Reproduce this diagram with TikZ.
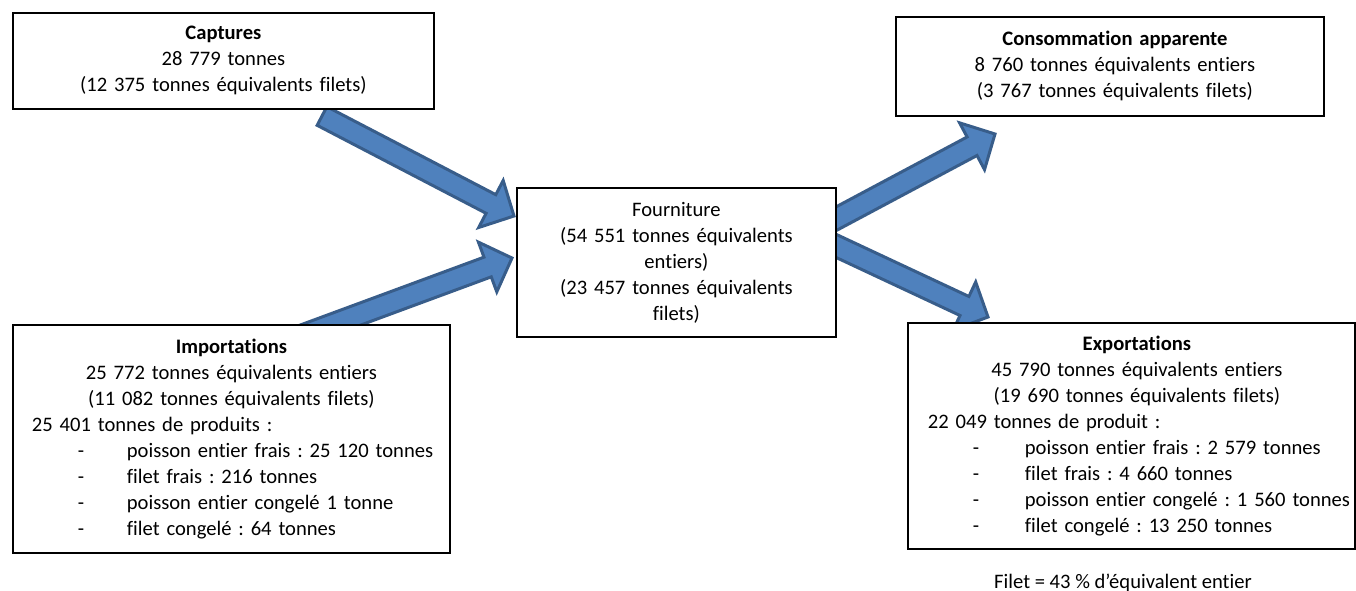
\documentclass[tikz,border=0pt]{standalone}
\usepackage{fontspec}
\setmainfont{Carlito}[RawFeature={-liga;-clig;-calt;-dlig}]
\usetikzlibrary{calc}
\frenchspacing
\definecolor{arrowfill}{HTML}{4F81BD}
\definecolor{arrowline}{HTML}{385D8A}
\newcommand{\fs}{\fontsize{20.6}{26}\selectfont\frenchspacing}
\newcommand{\lftline}[3]{\makebox[#1][l]{\hspace*{#2}#3}}
\newcommand{\dashitem}[3]{\makebox[#1][l]{\hspace*{65pt}\makebox[#2][l]{-}#3}}
\newcommand{\blockarrow}[2]{%
  \draw[barrow] ($(#1)!10.5pt!90:(#2)$)
    -- ($(#2)!26pt!(#1)!10.5pt!-90:(#1)$)
    -- ($(#2)!26pt!(#1)!26.5pt!-90:(#1)$)
    -- (#2)
    -- ($(#2)!26pt!(#1)!26.5pt!90:(#1)$)
    -- ($(#2)!26pt!(#1)!10.5pt!90:(#1)$)
    -- ($(#1)!10.5pt!-90:(#2)$) -- cycle;}
\tikzset{
  box/.style={draw=black, line width=1.8pt, fill=white, inner sep=0pt,
    align=center, font=\fs, anchor=north west},
  barrow/.style={fill=arrowfill, draw=arrowline, line width=3pt, line join=miter},
  note/.style={font=\fs, inner sep=0pt}
}
\begin{document}
\begin{tikzpicture}[x=1pt,y=-1pt]
\useasboundingbox (0,0) rectangle (1356,591);
% arrow end points
\coordinate (a1t) at (322,116);
\coordinate (a1h) at (514,216);
\coordinate (a2t) at (290,340);
\coordinate (a2h) at (512,258);
\coordinate (a3t) at (800,238);
\coordinate (a3h) at (995,134);
\coordinate (a4t) at (800,229);
\coordinate (a4h) at (988,317);
\blockarrow{a1t}{a1h}
\blockarrow{a2t}{a2h}
\blockarrow{a3t}{a3h}
\blockarrow{a4t}{a4h}
% boxes
\node[box, minimum width=421pt, minimum height=96pt, text width=421pt] (cap) at (12,12)
  {\textbf{Captures}\\28 779 tonnes\\(12 375 tonnes équivalents filets)};
\node[box, minimum width=428pt, minimum height=99pt, text width=428pt] (cons) at (895,16)
  {\hspace*{10pt}\textbf{Consommation apparente}\\\hspace*{10pt}8 760 tonnes équivalents entiers\\\hspace*{10pt}(3 767 tonnes équivalents filets)};
\node[box, minimum width=319pt, minimum height=149pt, text width=319pt] (four) at (516,187)
  {Fourniture\\(54 551 tonnes équivalents\\entiers)\\(23 457 tonnes équivalents\\filets)};
\node[box, minimum width=437pt, minimum height=228pt, text width=437pt] (imp) at (12,324)
  {\textbf{Importations}\\25 772 tonnes équivalents entiers\\(11 082 tonnes équivalents filets)\\
   \lftline{437pt}{19pt}{25 401 tonnes de produits :}\\
   \dashitem{437pt}{49pt}{poisson entier frais : 25 120 tonnes}\\
   \dashitem{437pt}{49pt}{filet frais : 216 tonnes}\\
   \dashitem{437pt}{49pt}{poisson entier congelé 1 tonne}\\
   \dashitem{437pt}{49pt}{filet congelé : 64 tonnes}};
\node[box, minimum width=447pt, minimum height=226pt, text width=447pt] (exp) at (907,322)
  {\hspace*{11pt}\textbf{Exportations}\\\hspace*{11pt}45 790 tonnes équivalents entiers\\\hspace*{11pt}(19 690 tonnes équivalents filets)\\
   \lftline{447pt}{20pt}{22 049 tonnes de produit :}\\
   \dashitem{447pt}{52pt}{poisson entier frais : 2 579 tonnes}\\
   \dashitem{447pt}{52pt}{filet frais : 4 660 tonnes}\\
   \dashitem{447pt}{52pt}{poisson entier congelé : 1 560 tonnes}\\
   \dashitem{447pt}{52pt}{filet congelé : 13 250 tonnes}};
\node[note, anchor=base] (fnote) at (1123,588) {Filet = 43 \% d’équivalent entier};
\end{tikzpicture}
\end{document}
